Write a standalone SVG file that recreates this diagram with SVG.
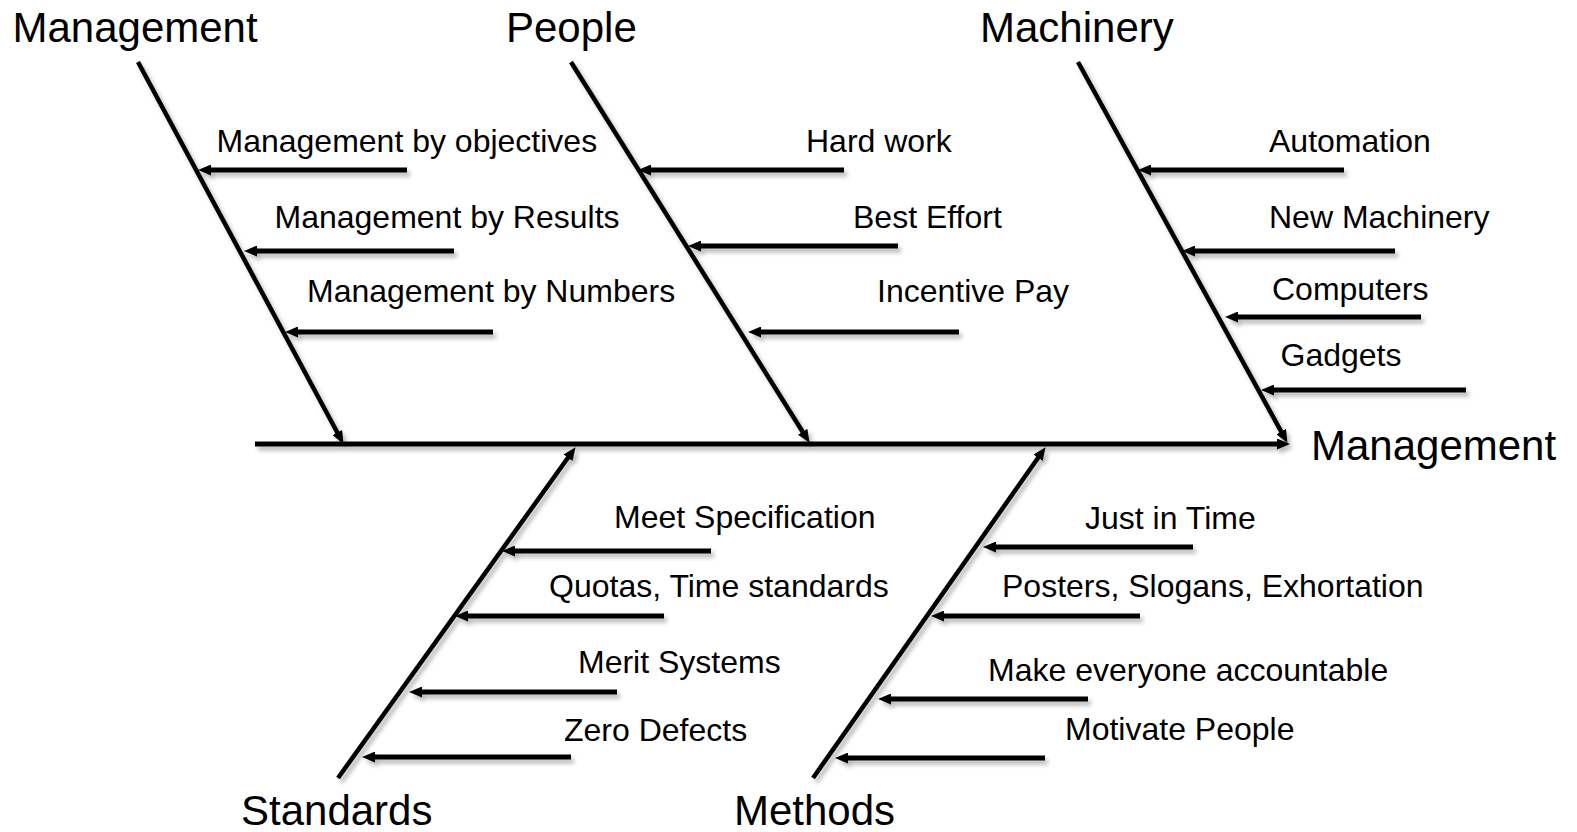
<svg xmlns="http://www.w3.org/2000/svg" width="1577" height="832" viewBox="0 0 1577 832">
<style>
  .title { font-family: "Liberation Sans", Arial, sans-serif; font-size: 42px; fill: #000; }
  .cause { font-family: "Liberation Sans", Arial, sans-serif; font-size: 32px; fill: #000; }
  .spine { stroke: #000; stroke-width: 4.5; fill: none; marker-end: url(#arrow); }
  .rib { stroke: #000; stroke-width: 5; fill: none; marker-end: url(#arrow); }
  .main { stroke: #000; stroke-width: 5; fill: none; marker-end: url(#arrow); }
</style>
<defs>
  <marker id="arrow" markerUnits="userSpaceOnUse" markerWidth="13" markerHeight="11" refX="4" refY="5.5" orient="auto">
    <path d="M0,0 L13,5.5 L0,11 z" fill="#000"/>
  </marker>
  <filter id="shadow" x="-10%" y="-10%" width="120%" height="120%">
    <feDropShadow dx="3" dy="4" stdDeviation="2" flood-color="#000" flood-opacity="0.28"/>
  </filter>
</defs>
<rect width="1577" height="832" fill="#fff"/>

<g id="connectors" filter="url(#shadow)">
  <path class="main" d="M255,444 H1281"/>
  <path class="spine" d="M138,62 L339.2,436"/>
  <path class="spine" d="M571,62 L804.8,435.2"/>
  <path class="spine" d="M1078,62 L1283.1,435"/>
  <path class="spine" d="M338,778 L570.3,454.5"/>
  <path class="spine" d="M813,778 L1040.4,454.5"/>

  <path class="rib" d="M407,170 H207"/>
  <path class="rib" d="M454,251 H253"/>
  <path class="rib" d="M493,332 H294"/>

  <path class="rib" d="M844,170 H647"/>
  <path class="rib" d="M898,246 H697"/>
  <path class="rib" d="M959,332 H757"/>

  <path class="rib" d="M1344,170 H1147"/>
  <path class="rib" d="M1395,251 H1191"/>
  <path class="rib" d="M1421,317 H1234"/>
  <path class="rib" d="M1466,390 H1270"/>

  <path class="rib" d="M711,551 H511"/>
  <path class="rib" d="M664,616 H464"/>
  <path class="rib" d="M617,692 H418"/>
  <path class="rib" d="M571,757 H371"/>

  <path class="rib" d="M1193,547 H992"/>
  <path class="rib" d="M1140,616 H940"/>
  <path class="rib" d="M1088,699 H887"/>
  <path class="rib" d="M1045,758 H844"/>
</g>

<g id="cat-management"><text class="title" x="12.5" y="42">Management</text></g>
<g id="cat-people"><text class="title" x="506" y="42">People</text></g>
<g id="cat-machinery"><text class="title" x="980" y="42">Machinery</text></g>
<g id="effect-management"><text class="title" x="1311" y="460">Management</text></g>
<g id="cat-standards"><text class="title" x="241" y="825">Standards</text></g>
<g id="cat-methods"><text class="title" x="734" y="825">Methods</text></g>

<g id="cause-mbo"><text class="cause" x="216.5" y="152">Management by objectives</text></g>
<g id="cause-mbr"><text class="cause" x="274.5" y="228">Management by Results</text></g>
<g id="cause-mbn"><text class="cause" x="307" y="302">Management by Numbers</text></g>

<g id="cause-hard-work"><text class="cause" x="806" y="152">Hard work</text></g>
<g id="cause-best-effort"><text class="cause" x="853" y="228">Best Effort</text></g>
<g id="cause-incentive-pay"><text class="cause" x="877" y="302">Incentive Pay</text></g>

<g id="cause-automation"><text class="cause" x="1269" y="152">Automation</text></g>
<g id="cause-new-machinery"><text class="cause" x="1269" y="228">New Machinery</text></g>
<g id="cause-computers"><text class="cause" x="1272" y="300">Computers</text></g>
<g id="cause-gadgets"><text class="cause" x="1280.5" y="366">Gadgets</text></g>

<g id="cause-meet-spec"><text class="cause" x="614" y="528">Meet Specification</text></g>
<g id="cause-quotas"><text class="cause" x="549" y="597">Quotas, Time standards</text></g>
<g id="cause-merit"><text class="cause" x="578" y="673">Merit Systems</text></g>
<g id="cause-zero-defects"><text class="cause" x="564" y="741">Zero Defects</text></g>

<g id="cause-jit"><text class="cause" x="1085" y="529">Just in Time</text></g>
<g id="cause-posters"><text class="cause" x="1002" y="597">Posters, Slogans, Exhortation</text></g>
<g id="cause-accountable"><text class="cause" x="988" y="681">Make everyone accountable</text></g>
<g id="cause-motivate"><text class="cause" x="1065" y="740">Motivate People</text></g>
</svg>
